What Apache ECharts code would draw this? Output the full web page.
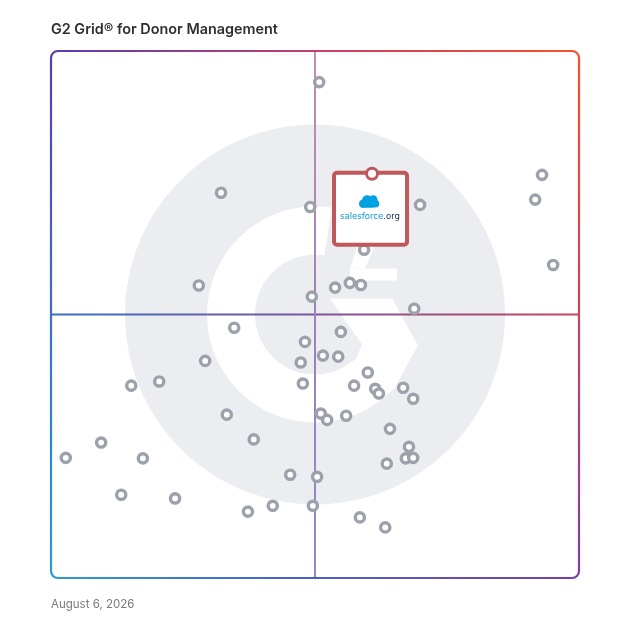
<!DOCTYPE html>
<html><head><meta charset="utf-8">
<script src="https://cdn.jsdelivr.net/npm/echarts@6/dist/echarts.min.js"></script>
<style>html,body{margin:0;padding:0;background:#fff}#c{width:628px;height:628px}</style>
</head><body><div id="c"></div>
<script>
// ---- data (0..100 scale; x = satisfaction, y = market presence) ----
const chartTitle = 'G2 Grid\u00AE for Donor Management';
const reportDate = 'August 6, 2026';
const productX = [50.8, 93.0, 91.7, 95.1, 32.2, 49.1, 69.9, 59.3, 28.0, 49.4, 53.8, 56.6, 58.7, 68.8, 34.7, 54.9, 48.1, 29.2, 51.5, 54.4, 47.3, 60.0, 15.2, 20.5, 47.7, 57.4, 61.4, 62.1, 66.7, 68.6, 33.3, 51.1, 52.3, 55.9, 64.2, 38.4, 9.5, 67.8, 2.8, 17.4, 63.6, 67.2, 68.6, 45.3, 50.4, 13.3, 23.5, 37.3, 42.0, 49.6, 58.5, 63.3];
const productY = [94.1, 76.5, 71.8, 59.4, 73.1, 70.4, 70.8, 62.3, 55.5, 53.4, 55.1, 56.0, 55.6, 51.1, 47.5, 46.7, 44.8, 41.2, 42.2, 42.0, 40.9, 39.0, 36.5, 37.3, 36.9, 36.5, 35.9, 35.0, 36.1, 34.0, 31.0, 31.2, 30.0, 30.8, 28.3, 26.3, 25.7, 24.9, 22.8, 22.7, 21.7, 22.7, 22.8, 19.6, 19.2, 15.8, 15.1, 12.6, 13.7, 13.7, 11.5, 9.6];
const featuredX = [60.8];
const featuredY = [76.7];
const featuredLabel = ['salesforce', '.org'];
const midX = 50, midY = 50;

const chart = echarts.init(document.getElementById('c'), null, {renderer: 'canvas'});
const G = {left: 51, top: 51, width: 528, height: 527};
const L = G.left, T = G.top, R = G.left + G.width, B = G.top + G.height;

const others = productX.map((x, i) => [x, productY[i]]);
const featured = featuredX.map((x, i) => [x, featuredY[i]]);

chart.setOption({
  animation: false,
  grid: {left: G.left, top: G.top, width: G.width, height: G.height},
  xAxis: {type: 'value', min: 0, max: 100, show: false},
  yAxis: {type: 'value', min: 0, max: 100, show: false},
  series: [
    {
      type: 'scatter', z: 5, data: others, symbol: 'circle', symbolSize: 9.2,
      itemStyle: {color: '#ffffff', borderColor: '#9ca1ab', borderWidth: 3.4, opacity: 1},
      emphasis: {disabled: true}, silent: true
    },
    {
      type: 'custom', z: 8, data: featured, silent: true,
      renderItem: function (params, api) {
        const p = api.coord([api.value(0), api.value(1)]);
        const cx = p[0], cy = p[1];
        const ccx = cx - 3, ccy = cy + 28.5;
        const blue = '#00a1e0';
        return {
          type: 'group',
          children: [
            {type: 'rect', shape: {x: cx - 38, y: cy - 1, width: 73, height: 72, r: 3},
             style: {fill: '#ffffff', stroke: '#c0575a', lineWidth: 4}},
            {type: 'circle', shape: {cx: ccx - 6, cy: ccy + 1.5, r: 4}, style: {fill: blue}},
            {type: 'circle', shape: {cx: ccx - 2, cy: ccy - 2, r: 5}, style: {fill: blue}},
            {type: 'circle', shape: {cx: ccx + 4, cy: ccy - 2.5, r: 4.5}, style: {fill: blue}},
            {type: 'circle', shape: {cx: ccx + 6.5, cy: ccy + 1.5, r: 3.8}, style: {fill: blue}},
            {type: 'rect', shape: {x: ccx - 8, y: ccy + 0.5, width: 14, height: 5, r: 2.5}, style: {fill: blue}},
            {type: 'text', x: cx - 2, y: cy + 43,
             style: {text: '{a|' + featuredLabel[0] + '}{b|' + featuredLabel[1] + '}',
                     align: 'center', verticalAlign: 'middle',
                     rich: {a: {fill: '#0a9ad8', fontSize: 9.5, fontFamily: 'DejaVu Sans Condensed'},
                            b: {fill: '#1e2f5c', fontSize: 9.5, fontFamily: 'DejaVu Sans Condensed'}}}},
            {type: 'circle', shape: {cx: cx, cy: cy, r: 5.5},
             style: {fill: '#ffffff', stroke: '#c0575a', lineWidth: 3}}
          ]
        };
      }
    }
  ]
});

const c0 = chart.convertToPixel({gridIndex: 0}, [midX, midY]);
const cx0 = c0[0], cy0 = c0[1];
const LG = echarts.graphic.LinearGradient;
const gray = '#ebedf0';
const rr = 7, lw = 2.2;
const cTL = '#5a3cb2', cTM = '#c2406b', cTR = '#f6512a';
const cRM = '#c5445e', cBR = '#7d3ea8', cBM = '#4b5fc0';
const cBL = '#2a9bd8', cLM = '#3a6fc6';

function poly(pts) {
  return {type: 'polygon', z: 1, silent: true,
          shape: {points: pts.map(q => [cx0 + q[0], cy0 + q[1]])}, style: {fill: '#ffffff'}};
}

const graphics = [
  // G2 watermark
  {type: 'circle', z: 0, silent: true, shape: {cx: cx0, cy: cy0, r: 190}, style: {fill: gray}},
  {type: 'sector', z: 1, silent: true,
   shape: {cx: cx0, cy: cy0, r0: 60, r: 108, startAngle: 40 * Math.PI / 180, endAngle: 279 * Math.PI / 180, clockwise: true},
   style: {fill: '#ffffff'}},
  poly([[15, -16], [77, -16], [103, 31], [78, 76], [42, 42], [47, 30]]),
  poly([[35, -46], [82, -46], [82, -34], [35, -34]]),
  poly([[44, -74], [62, -74], [50, -46], [35, -46]]),
  // crosshair
  {type: 'line', z: 2, silent: true, shape: {x1: L, y1: cy0, x2: R, y2: cy0},
   style: {lineWidth: 2, stroke: new LG(L, 0, R, 0, [{offset: 0, color: cLM}, {offset: 0.5, color: '#7a579a'}, {offset: 1, color: cRM}], true)}},
  {type: 'line', z: 2, silent: true, shape: {x1: cx0, y1: T, x2: cx0, y2: B},
   style: {lineWidth: 2, stroke: new LG(0, T, 0, B, [{offset: 0, color: '#c88cb3'}, {offset: 0.5, color: '#a07fbc'}, {offset: 1, color: '#8a8ccc'}], true)}},
  // border
  {type: 'line', z: 3, silent: true, shape: {x1: L + rr, y1: T, x2: R - rr, y2: T},
   style: {lineWidth: lw, stroke: new LG(L, 0, R, 0, [{offset: 0, color: cTL}, {offset: 0.5, color: cTM}, {offset: 1, color: cTR}], true)}},
  {type: 'line', z: 3, silent: true, shape: {x1: R, y1: T + rr, x2: R, y2: B - rr},
   style: {lineWidth: lw, stroke: new LG(0, T, 0, B, [{offset: 0, color: cTR}, {offset: 0.5, color: cRM}, {offset: 1, color: cBR}], true)}},
  {type: 'line', z: 3, silent: true, shape: {x1: L + rr, y1: B, x2: R - rr, y2: B},
   style: {lineWidth: lw, stroke: new LG(L, 0, R, 0, [{offset: 0, color: cBL}, {offset: 0.5, color: cBM}, {offset: 1, color: cBR}], true)}},
  {type: 'line', z: 3, silent: true, shape: {x1: L, y1: T + rr, x2: L, y2: B - rr},
   style: {lineWidth: lw, stroke: new LG(0, T, 0, B, [{offset: 0, color: cTL}, {offset: 0.5, color: cLM}, {offset: 1, color: cBL}], true)}},
  {type: 'arc', z: 3, silent: true, shape: {cx: L + rr, cy: T + rr, r: rr, startAngle: Math.PI, endAngle: 1.5 * Math.PI, clockwise: true}, style: {stroke: cTL, lineWidth: lw, fill: null}},
  {type: 'arc', z: 3, silent: true, shape: {cx: R - rr, cy: T + rr, r: rr, startAngle: 1.5 * Math.PI, endAngle: 2 * Math.PI, clockwise: true}, style: {stroke: cTR, lineWidth: lw, fill: null}},
  {type: 'arc', z: 3, silent: true, shape: {cx: R - rr, cy: B - rr, r: rr, startAngle: 0, endAngle: 0.5 * Math.PI, clockwise: true}, style: {stroke: cBR, lineWidth: lw, fill: null}},
  {type: 'arc', z: 3, silent: true, shape: {cx: L + rr, cy: B - rr, r: rr, startAngle: 0.5 * Math.PI, endAngle: Math.PI, clockwise: true}, style: {stroke: cBL, lineWidth: lw, fill: null}},
  // texts
  {type: 'text', z: 3, silent: true, x: L, y: 29.5,
   style: {text: chartTitle, fontFamily: 'Inter', fontWeight: 600, fontSize: 14.4, fill: '#2f2f33', verticalAlign: 'middle'}},
  {type: 'text', z: 3, silent: true, x: L, y: 604.5,
   style: {text: reportDate, fontFamily: 'Inter', fontSize: 11.5, fill: '#7a7a7e', verticalAlign: 'middle'}}
];

chart.setOption({graphic: {elements: graphics}});
</script>
</body></html>
